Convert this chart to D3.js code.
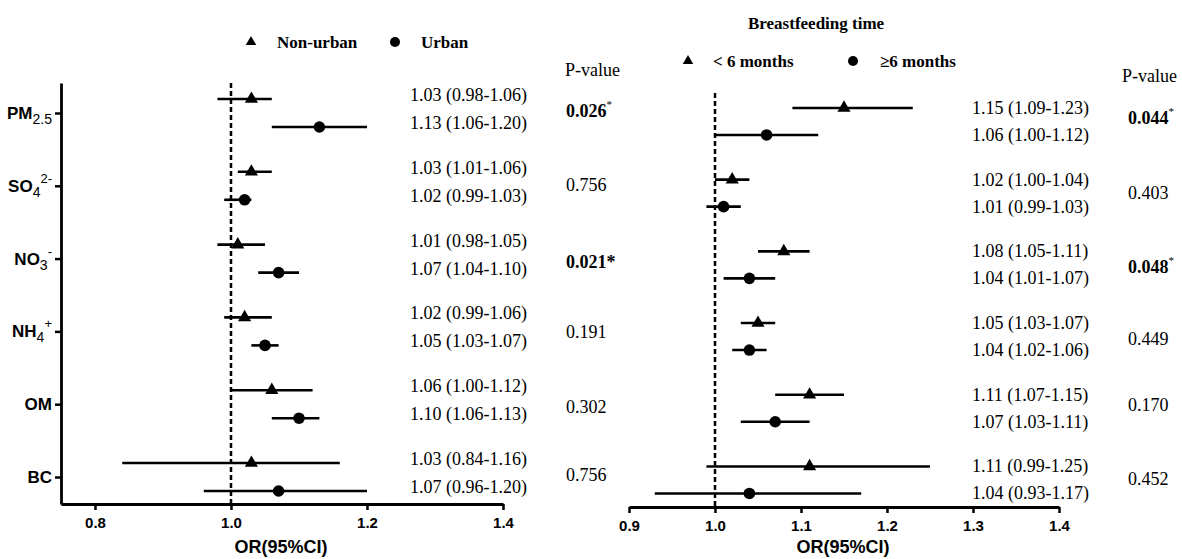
<!DOCTYPE html>
<html>
<head>
<meta charset="utf-8">
<script src="https://cdn.jsdelivr.net/npm/d3@7"></script>
<style>
  body { margin: 0; background: #fff; }
  svg { display: block; }
  .serif { font-family: "Liberation Serif", "Times New Roman", serif; }
  .sans { font-family: "Liberation Sans", Arial, sans-serif; }
</style>
</head>
<body>
<svg id="chart" width="1182" height="559"></svg>
<script>
// ---------------- DATA ----------------
const pollutants = ["PM2.5", "SO4 2-", "NO3 -", "NH4 +", "OM", "BC"];
const labelMain = ["PM", "SO", "NO", "NH", "OM", "BC"];
const labelSub  = ["2.5", "4", "3", "4", "", ""];
const labelSup  = ["", "2-", "-", "+", "", ""];

// Left panel: residence
const nonUrbanOR = [1.03, 1.03, 1.01, 1.02, 1.06, 1.03];
const nonUrbanLo = [0.98, 1.01, 0.98, 0.99, 1.00, 0.84];
const nonUrbanHi = [1.06, 1.06, 1.05, 1.06, 1.12, 1.16];
const urbanOR    = [1.13, 1.02, 1.07, 1.05, 1.10, 1.07];
const urbanLo    = [1.06, 0.99, 1.04, 1.03, 1.06, 0.96];
const urbanHi    = [1.20, 1.03, 1.10, 1.07, 1.13, 1.20];
const pLeft      = ["0.026", "0.756", "0.021", "0.191", "0.302", "0.756"];
const pLeftStar  = ["sup", "", "inline", "", "", ""];

// Right panel: breastfeeding time
const lt6OR = [1.15, 1.02, 1.08, 1.05, 1.11, 1.11];
const lt6Lo = [1.09, 1.00, 1.05, 1.03, 1.07, 0.99];
const lt6Hi = [1.23, 1.04, 1.11, 1.07, 1.15, 1.25];
const ge6OR = [1.06, 1.01, 1.04, 1.04, 1.07, 1.04];
const ge6Lo = [1.00, 0.99, 1.01, 1.02, 1.03, 0.93];
const ge6Hi = [1.12, 1.03, 1.07, 1.06, 1.11, 1.17];
const pRight     = ["0.044", "0.403", "0.048", "0.449", "0.170", "0.452"];
const pRightStar = ["sup", "", "sup", "", "", ""];

const leftTicks  = [0.8, 1.0, 1.2, 1.4];
const rightTicks = [0.9, 1.0, 1.1, 1.2, 1.3, 1.4];
const legendLeft  = ["Non-urban", "Urban"];
const legendRight = ["< 6 months", "\u22656 months"];
const rightTitle = "Breastfeeding time";
const xTitle = "OR(95%CI)";

// ---------------- DRAW ----------------
const svg = d3.select("#chart");
const fmt = v => v.toFixed(2);
const orText = (o, l, h) => `${fmt(o)} (${fmt(l)}-${fmt(h)})`;
const tri = d3.symbol().type(d3.symbolTriangle);

function panel(cfg) {
  const g = svg.append("g");
  const x = d3.scaleLinear().domain(cfg.xDomain).range(cfg.xRange);
  const y = d3.scaleLinear().domain(cfg.yDomain).range(cfg.yRange);
  const yBot = cfg.yRange[1];

  // dashed reference line at OR = 1
  g.append("line")
    .attr("x1", x(1)).attr("x2", x(1))
    .attr("y1", cfg.refTop).attr("y2", yBot)
    .attr("stroke", "#000").attr("stroke-width", 2.5)
    .attr("stroke-dasharray", "5,3");

  // bottom axis
  const xAxis = d3.axisBottom(x).tickValues(cfg.ticks).tickFormat(d3.format(".1f"))
    .tickSize(6).tickSizeOuter(0);
  const ax = g.append("g").attr("transform", `translate(0,${yBot})`).call(xAxis);
  ax.select(".domain").attr("stroke-width", 2.8);
  ax.selectAll(".tick line").attr("stroke-width", 2.5);
  ax.selectAll(".tick text").attr("class", "sans")
    .style("font-size", "15px").style("font-weight", "bold").attr("fill", "#000").attr("dy", "1.0em");

  if (cfg.yAxis) {
    const yAxis = d3.axisLeft(y).tickValues(d3.range(pollutants.length)).tickFormat("")
      .tickSize(6).tickSizeOuter(0);
    const ay = g.append("g").attr("transform", `translate(${cfg.xRange[0]},0)`).call(yAxis);
    ay.select(".domain").attr("stroke-width", 2.8);
    ay.selectAll(".tick line").attr("stroke-width", 2.5);
    pollutants.forEach((p, i) => {
      const t = g.append("text").attr("class", "sans")
        .attr("x", cfg.xRange[0] - 9).attr("y", y(i) + 6)
        .attr("text-anchor", "end").attr("fill", "#000");
      t.append("tspan").text(labelMain[i]).style("font-size", "17px").style("font-weight", "bold");
      if (labelSub[i]) t.append("tspan").text(labelSub[i]).attr("dy", 5).style("font-size", "14px");
      if (labelSup[i]) t.append("tspan").text(labelSup[i]).attr("dy", labelSub[i] ? -14 : -7).style("font-size", "13px");
    });
  }

  const series = [
    {or: cfg.aOR, lo: cfg.aLo, hi: cfg.aHi, off: -cfg.off, shape: "tri"},
    {or: cfg.bOR, lo: cfg.bLo, hi: cfg.bHi, off: cfg.off, shape: "circ"}
  ];
  series.forEach(s => {
    s.or.forEach((v, i) => {
      const yy = y(i) + s.off;
      g.append("line")
        .attr("x1", x(s.lo[i])).attr("x2", x(s.hi[i]))
        .attr("y1", yy).attr("y2", yy)
        .attr("stroke", "#000").attr("stroke-width", 2.6);
      if (s.shape === "tri") {
        g.append("path").attr("d", tri.size(75)()).attr("transform", `translate(${x(v)},${yy})`).attr("fill", "#000");
      } else {
        g.append("circle").attr("cx", x(v)).attr("cy", yy).attr("r", 5.8).attr("fill", "#000");
      }
      g.append("text").attr("class", "serif")
        .attr("x", cfg.textX).attr("y", yy + cfg.textDy)
        .attr("dominant-baseline", "central")
        .style("font-size", "18px").attr("fill", "#000")
        .text(orText(v, s.lo[i], s.hi[i]));
    });
  });

  // P-values
  g.append("text").attr("class", "serif").attr("x", cfg.pHeadX).attr("y", cfg.pHeadY)
    .attr("dominant-baseline", "central").style("font-size", "18px").text("P-value");
  cfg.p.forEach((p, i) => {
    const star = cfg.pStar[i];
    const t = g.append("text").attr("class", "serif")
      .attr("x", cfg.pX).attr("y", y(i) + cfg.pDy[i])
      .attr("dominant-baseline", "central").style("font-size", "18px").attr("fill", "#000");
    t.append("tspan").text(p).style("font-weight", star ? "bold" : "normal");
    if (star === "sup") t.append("tspan").text("*").attr("dy", -7).style("font-size", "11px");
    if (star === "inline") t.append("tspan").text("*").style("font-weight", "bold");
  });

  // x title
  g.append("text").attr("class", "sans")
    .attr("x", cfg.titleX).attr("y", cfg.titleY)
    .attr("text-anchor", "middle").attr("dominant-baseline", "central")
    .style("font-size", "18px").style("font-weight", "bold").text(xTitle);
  return g;
}

panel({
  xDomain: [0.75, 1.4], xRange: [61, 503],
  yDomain: [-0.412, 5.371], yRange: [83, 504],
  refTop: 83, ticks: leftTicks, yAxis: true, off: 14,
  aOR: nonUrbanOR, aLo: nonUrbanLo, aHi: nonUrbanHi,
  bOR: urbanOR, bLo: urbanLo, bHi: urbanHi,
  textX: 410, textDy: -4,
  p: pLeft, pStar: pLeftStar, pX: 566, pHeadX: 565, pHeadY: 70,
  pDy: [-2, -1, 3, 1, 3, -2],
  titleX: 281, titleY: 547
});

panel({
  xDomain: [0.9, 1.4], xRange: [629, 1059],
  yDomain: [-0.397, 5.377], yRange: [93, 507],
  refTop: 93, ticks: rightTicks, yAxis: false, off: 13.5,
  aOR: lt6OR, aLo: lt6Lo, aHi: lt6Hi,
  bOR: ge6OR, bLo: ge6Lo, bHi: ge6Hi,
  textX: 972, textDy: 0,
  p: pRight, pStar: pRightStar, pX: 1128, pHeadX: 1122, pHeadY: 76,
  pDy: [-3, 0, 2, 2, -3, -1],
  titleX: 843, titleY: 547
});

// Legends
function legendItem(shape, cx, cy, label, tx) {
  if (shape === "tri") {
    svg.append("path").attr("d", tri.size(48)()).attr("transform", `translate(${cx},${cy})`).attr("fill", "#000");
  } else {
    svg.append("circle").attr("cx", cx).attr("cy", cy).attr("r", 5).attr("fill", "#000");
  }
  svg.append("text").attr("class", "serif").attr("x", tx).attr("y", cy)
    .attr("dominant-baseline", "central").style("font-size", "17px").style("font-weight", "bold")
    .text(label);
}
legendItem("tri", 251, 42, legendLeft[0], 277);
legendItem("circ", 395, 42, legendLeft[1], 421);
svg.append("text").attr("class", "serif").attr("x", 748).attr("y", 23)
  .attr("dominant-baseline", "central").style("font-size", "17px").style("font-weight", "bold")
  .text(rightTitle);
legendItem("tri", 688, 61, legendRight[0], 713);
legendItem("circ", 853, 61, legendRight[1], 880);
</script>
</body>
</html>
